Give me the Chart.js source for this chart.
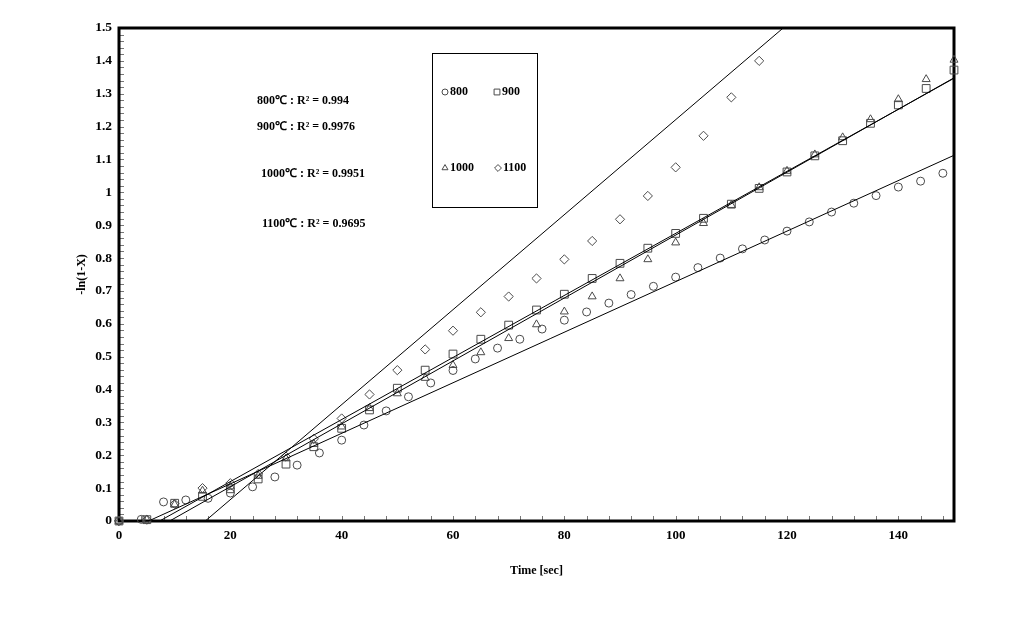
<!DOCTYPE html>
<html>
<head>
<meta charset="utf-8">
<script src="https://cdn.jsdelivr.net/npm/chart.js@4.4.1/dist/chart.umd.min.js"></script>
<style>
  html, body { margin: 0; padding: 0; background: #fff; }
  #wrap { width: 1012px; height: 621px; position: relative; }
</style>
</head>
<body>
<div id="wrap"><canvas id="kinetics"></canvas></div>
<script>
// time axis values (sec)
const time800 = [0,4,8,12,16,20,24,28,32,36,40,44,48,52,56,60,64,68,72,76,80,84,88,92,96,100,104,108,112,116,120,124,128,132,136,140,144,148];
const time900 = [0,5,10,15,20,25,30,35,40,45,50,55,60,65,70,75,80,85,90,95,100,105,110,115,120,125,130,135,140,145,150];
const time1000 = [0,5,10,15,20,25,30,35,40,45,50,55,60,65,70,75,80,85,90,95,100,105,110,115,120,125,130,135,140,145,150];
const time1100 = [0,5,10,15,20,25,30,35,40,45,50,55,60,65,70,75,80,85,90,95,100,105,110,115];

// -ln(1-X)
const val800 = [0,0.005,0.058,0.064,0.069,0.085,0.104,0.134,0.17,0.207,0.246,0.292,0.335,0.378,0.42,0.458,0.493,0.526,0.553,0.584,0.611,0.636,0.663,0.689,0.714,0.742,0.771,0.8,0.828,0.855,0.882,0.91,0.94,0.967,0.99,1.016,1.034,1.058];
const val900 = [0,0.004,0.054,0.075,0.098,0.128,0.173,0.226,0.282,0.338,0.404,0.459,0.508,0.553,0.596,0.642,0.69,0.738,0.784,0.83,0.875,0.921,0.964,1.012,1.062,1.111,1.157,1.21,1.266,1.316,1.372];
const val1000 = [0,0.004,0.05,0.092,0.105,0.137,0.19,0.234,0.287,0.343,0.388,0.435,0.474,0.513,0.556,0.598,0.637,0.683,0.738,0.796,0.847,0.906,0.961,1.015,1.065,1.115,1.167,1.222,1.283,1.344,1.403];
const val1100 = [0,0.004,0.052,0.1,0.115,0.143,0.196,0.25,0.312,0.385,0.459,0.522,0.579,0.635,0.683,0.738,0.796,0.852,0.918,0.989,1.076,1.172,1.289,1.4];

// linear trend lines (slope, intercept) as drawn
const seriesNames = ['800', '900', '1000', '1100'];
const trendSlope = [0.00769, 0.00944, 0.00957, 0.01445];
const trendIntercept = [-0.0408, -0.0689, -0.0871, -0.224];
const r2Labels = ['800\u2103 : R\u00b2 = 0.994', '900\u2103 : R\u00b2 = 0.9976', '1000\u2103 : R\u00b2 = 0.9951', '1100\u2103 : R\u00b2 = 0.9695'];

const xTickLabels = ['0','20','40','60','80','100','120','140'];
const yTickLabels = ['0','0.1','0.2','0.3','0.4','0.5','0.6','0.7','0.8','0.9','1','1.1','1.2','1.3','1.4','1.5'];

const serif = "'Liberation Serif', 'Times New Roman', serif";
const markColor = '#4a4a4a';
const markStyles = ['circle', 'rect', 'triangle', 'rectRot'];
const markRadius = [4, 5.5, 4.6, 4.6];

function pts(xs, ys) { return xs.map((x, i) => ({ x: x, y: ys[i] })); }
function trendPts(i) {
  return [0, 150].map(x => ({ x: x, y: trendSlope[i] * x + trendIntercept[i] }));
}

const allTimes = [time800, time900, time1000, time1100];
const allVals = [val800, val900, val1000, val1100];

const datasets = [];
for (let i = 0; i < 4; i++) {
  datasets.push({
    label: 'fit ' + seriesNames[i],
    data: trendPts(i),
    showLine: true,
    borderColor: '#000',
    borderWidth: 1,
    pointRadius: 0,
    clip: 0
  });
}
for (let i = 0; i < 4; i++) {
  datasets.push({
    label: seriesNames[i],
    data: pts(allTimes[i], allVals[i]),
    showLine: false,
    pointStyle: markStyles[i],
    pointRadius: markRadius[i],
    pointBorderColor: markColor,
    pointBackgroundColor: 'rgba(0,0,0,0)',
    pointBorderWidth: 1,
    clip: false
  });
}

// frame + small inward ticks
const framePlugin = {
  id: 'frame',
  beforeDatasetsDraw(chart) {
    const { ctx, chartArea: a, scales } = chart;
    ctx.save();
    ctx.strokeStyle = '#777';
    ctx.lineWidth = 1;
    ctx.beginPath();
    for (let v = 0; v <= 150; v += 4) {
      const px = Math.round(scales.x.getPixelForValue(v)) + 0.5;
      ctx.moveTo(px, a.bottom);
      ctx.lineTo(px, a.bottom - 5);
    }
    for (let k = 0; k <= 75; k++) {
      const py = Math.round(scales.y.getPixelForValue(k * 0.02)) + 0.5;
      ctx.moveTo(a.left, py);
      ctx.lineTo(a.left + 5, py);
    }
    ctx.stroke();
    ctx.strokeStyle = '#000';
    ctx.lineWidth = 3;
    ctx.strokeRect(a.left, a.top, a.right - a.left, a.bottom - a.top);
    ctx.restore();
  }
};

// legend box and R² notes
const notesPlugin = {
  id: 'notes',
  afterDraw(chart, args, opts) {
    const ctx = chart.ctx;
    ctx.save();
    ctx.font = 'bold 12px ' + serif;
    ctx.fillStyle = '#000';
    ctx.textBaseline = 'middle';
    ctx.textAlign = 'left';
    opts.notePos.forEach((p, i) => ctx.fillText(r2Labels[i], p[0], p[1]));

    const b = opts.box;
    ctx.strokeStyle = '#000';
    ctx.lineWidth = 1;
    ctx.strokeRect(b[0] + 0.5, b[1] + 0.5, b[2], b[3]);
    opts.legendPos.forEach((p, i) => {
      ctx.fillStyle = 'rgba(0,0,0,0)';
      ctx.strokeStyle = markColor;
      ctx.lineWidth = 1;
      Chart.helpers.drawPoint(ctx, {
        pointStyle: markStyles[i],
        radius: markRadius[i] * 0.75,
        borderWidth: 1,
        rotation: 0
      }, p[0], p[1]);
      ctx.fillStyle = '#000';
      ctx.fillText(seriesNames[i], p[0] + 5, p[1]);
    });
    ctx.restore();
  }
};

new Chart(document.getElementById('kinetics'), {
  type: 'scatter',
  data: { datasets: datasets },
  plugins: [framePlugin, notesPlugin],
  options: {
    responsive: true,
    maintainAspectRatio: false,
    animation: false,
    layout: { padding: { left: 0, top: 28, right: 58, bottom: 0 } },
    plugins: {
      legend: { display: false },
      tooltip: { enabled: false },
      notes: {
        notePos: [[257, 101], [257, 127], [261, 174], [262, 224]],
        box: [432, 53, 105, 154],
        legendPos: [[445, 92], [497, 92], [445, 168], [498, 168]]
      }
    },
    scales: {
      x: {
        type: 'linear',
        min: 0,
        max: 150,
        afterFit(s) { s.height = 100; },
        grid: { display: false, drawTicks: false },
        border: { display: false },
        ticks: {
          stepSize: 20,
          includeBounds: false,
          padding: 7,
          color: '#000',
          font: { family: serif, size: 13, weight: 'bold' },
          callback: (v, i) => xTickLabels[i]
        },
        title: {
          display: true,
          text: 'Time [sec]',
          color: '#000',
          font: { family: serif, size: 12, weight: 'bold' },
          padding: { top: 0, bottom: 43 }
        }
      },
      y: {
        type: 'linear',
        min: 0,
        max: 1.5,
        afterFit(s) { s.width = 119; },
        grid: { display: false, drawTicks: false },
        border: { display: false },
        ticks: {
          stepSize: 0.1,
          padding: 7,
          color: '#000',
          font: { family: serif, size: 13.5, weight: 'bold' },
          callback: (v, i) => yTickLabels[i]
        },
        title: {
          display: true,
          text: '-ln(1-X)',
          color: '#000',
          font: { family: serif, size: 12, weight: 'bold' },
          padding: { top: 75, bottom: 0 }
        }
      }
    }
  }
});
</script>
</body>
</html>
